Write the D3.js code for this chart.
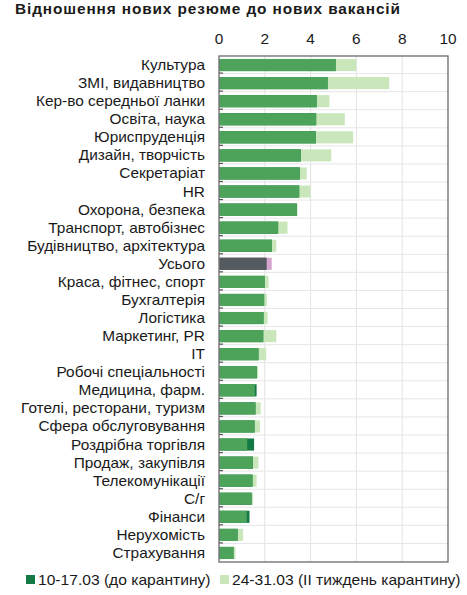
<!DOCTYPE html>
<html>
<head>
<meta charset="utf-8">
<script src="https://cdn.jsdelivr.net/npm/d3@7"></script>
<style>
  body { margin: 0; background: #fff; }
  svg { font-family: "Liberation Sans", Arial, sans-serif; }
</style>
</head>
<body>
<svg id="chart" width="467" height="595"></svg>
<script>
const categories = [
  "Культура", "ЗМІ, видавництво", "Кер-во середньої ланки", "Освіта, наука",
  "Юриспруденція", "Дизайн, творчість", "Секретаріат", "HR",
  "Охорона, безпека", "Транспорт, автобізнес", "Будівництво, архітектура", "Усього",
  "Краса, фітнес, спорт", "Бухгалтерія", "Логістика", "Маркетинг, PR",
  "IT", "Робочі спеціальності", "Медицина, фарм.", "Готелі, ресторани, туризм",
  "Сфера обслуговування", "Роздрібна торгівля", "Продаж, закупівля", "Телекомунікації",
  "С/г", "Фінанси", "Нерухомість", "Страхування"
];
// 10-17.03 (до карантину)
const beforeQuarantine = [
  5.07, 4.72, 4.24, 4.22, 4.21, 3.55, 3.51, 3.48,
  3.38, 2.56, 2.29, 2.05, 1.97, 1.95, 1.92, 1.91,
  1.70, 1.63, 1.62, 1.57, 1.53, 1.51, 1.46, 1.44,
  1.40, 1.31, 0.79, 0.61
];
// 24-31.03 (II тиждень карантину)
const secondWeek = [
  5.97, 7.41, 4.80, 5.47, 5.84, 4.88, 3.81, 3.97,
  3.41, 2.97, 2.48, 2.28, 2.14, 2.07, 2.10, 2.48,
  2.04, 1.69, 1.54, 1.80, 1.77, 1.21, 1.70, 1.62,
  1.47, 1.19, 1.03, 0.70
];
const xTicks = [0, 2, 4, 6, 8, 10];
const seriesNames = ["10-17.03 (до карантину)", "24-31.03 (II тиждень карантину)"];

const colors = { dark: "#137a45", light: "#c9e7bb", mid: "#4ea35b" };
const totalColors = { dark: "#545b60", light: "#d5a4cf", mid: "#545b60" };

const svg = d3.select("#chart");
const margin = { top: 56, right: 19, bottom: 33, left: 219 };
const width = 467, height = 595;
const stretch = 1.1; // the original text is a bit wider than Arial

const rows = categories.map((c, i) => ({ name: c, a: beforeQuarantine[i], b: secondWeek[i] }));

const x = d3.scaleLinear().domain([0, 10]).range([margin.left, width - margin.right]);
const y = d3.scaleBand().domain(categories).range([margin.top, height - margin.bottom]).paddingInner(0.33).paddingOuter(0.165);

function label(g, tx, ty, txt, size, anchor) {
  return g.append("text")
    .attr("transform", `translate(${tx},${ty}) scale(${stretch},1)`)
    .attr("font-size", size)
    .attr("text-anchor", anchor || "start")
    .attr("fill", "#1a1a1a")
    .text(txt);
}

// title
label(svg, 15, 14, "Відношення нових резюме до нових вакансій", 14, "start")
  .attr("font-weight", "bold")
  .attr("letter-spacing", 0.8);

// grid
const step = y.step();
const boundary = d => y(d) - step * y.paddingInner() / 2;

svg.append("g").selectAll("line")
  .data(xTicks.slice(1, -1))
  .join("line")
  .attr("x1", d => x(d)).attr("x2", d => x(d))
  .attr("y1", margin.top).attr("y2", height - margin.bottom)
  .attr("stroke", "#e2e2e2").attr("stroke-width", 1);

svg.append("g").selectAll("line")
  .data(categories.slice(1))
  .join("line")
  .attr("x1", x(0)).attr("x2", x(10))
  .attr("y1", d => boundary(d) - 0.5)
  .attr("y2", d => boundary(d) - 0.5)
  .attr("stroke", "#e6e6e6").attr("stroke-width", 1);

// bars: light series, dark series, then the overlapping part on top
const bars = svg.append("g");
const pal = d => d.name === "Усього" ? totalColors : colors;

bars.selectAll("rect.b")
  .data(rows).join("rect").attr("class", "b")
  .attr("x", x(0) + 0.5).attr("y", d => y(d.name))
  .attr("width", d => x(d.b) - x(0)).attr("height", y.bandwidth())
  .attr("fill", d => pal(d).light);

bars.selectAll("rect.a")
  .data(rows).join("rect").attr("class", "a")
  .attr("x", x(0) + 0.5).attr("y", d => y(d.name))
  .attr("width", d => x(d.a) - x(0)).attr("height", y.bandwidth())
  .attr("fill", d => pal(d).dark);

bars.selectAll("rect.m")
  .data(rows).join("rect").attr("class", "m")
  .attr("x", x(0) + 0.5).attr("y", d => y(d.name))
  .attr("width", d => x(Math.min(d.a, d.b)) - x(0)).attr("height", y.bandwidth())
  .attr("fill", d => pal(d).mid);

// frame
svg.append("rect")
  .attr("x", margin.left).attr("y", margin.top)
  .attr("width", width - margin.left - margin.right)
  .attr("height", height - margin.top - margin.bottom)
  .attr("fill", "none").attr("stroke", "#6b6b6b").attr("stroke-width", 1.3);

// top axis labels
const xAxis = svg.append("g");
xTicks.forEach(t => label(xAxis, x(t), 44, d3.format("d")(t), 14, "middle"));

// left axis: labels + small inward ticks at row boundaries
const yAxis = svg.append("g");
categories.forEach(c => label(yAxis, 205, y(c) + y.bandwidth() / 2 + 5, c, 14, "end"));

svg.append("g").selectAll("line")
  .data(categories.slice(1))
  .join("line")
  .attr("x1", margin.left).attr("x2", margin.left + 4)
  .attr("y1", d => boundary(d) - 1)
  .attr("y2", d => boundary(d) - 1)
  .attr("stroke", "#555").attr("stroke-width", 1.2);

// legend
const legend = svg.append("g").attr("transform", `translate(0,585)`);
const legendItems = [
  { name: seriesNames[0], color: colors.dark, x: 26 },
  { name: seriesNames[1], color: colors.light, x: 220 }
];
legendItems.forEach(it => {
  legend.append("rect").attr("x", it.x).attr("y", -10).attr("width", 9).attr("height", 9).attr("fill", it.color);
  label(legend, it.x + 12, 0, it.name, 14.2, "start");
});
</script>
</body>
</html>
